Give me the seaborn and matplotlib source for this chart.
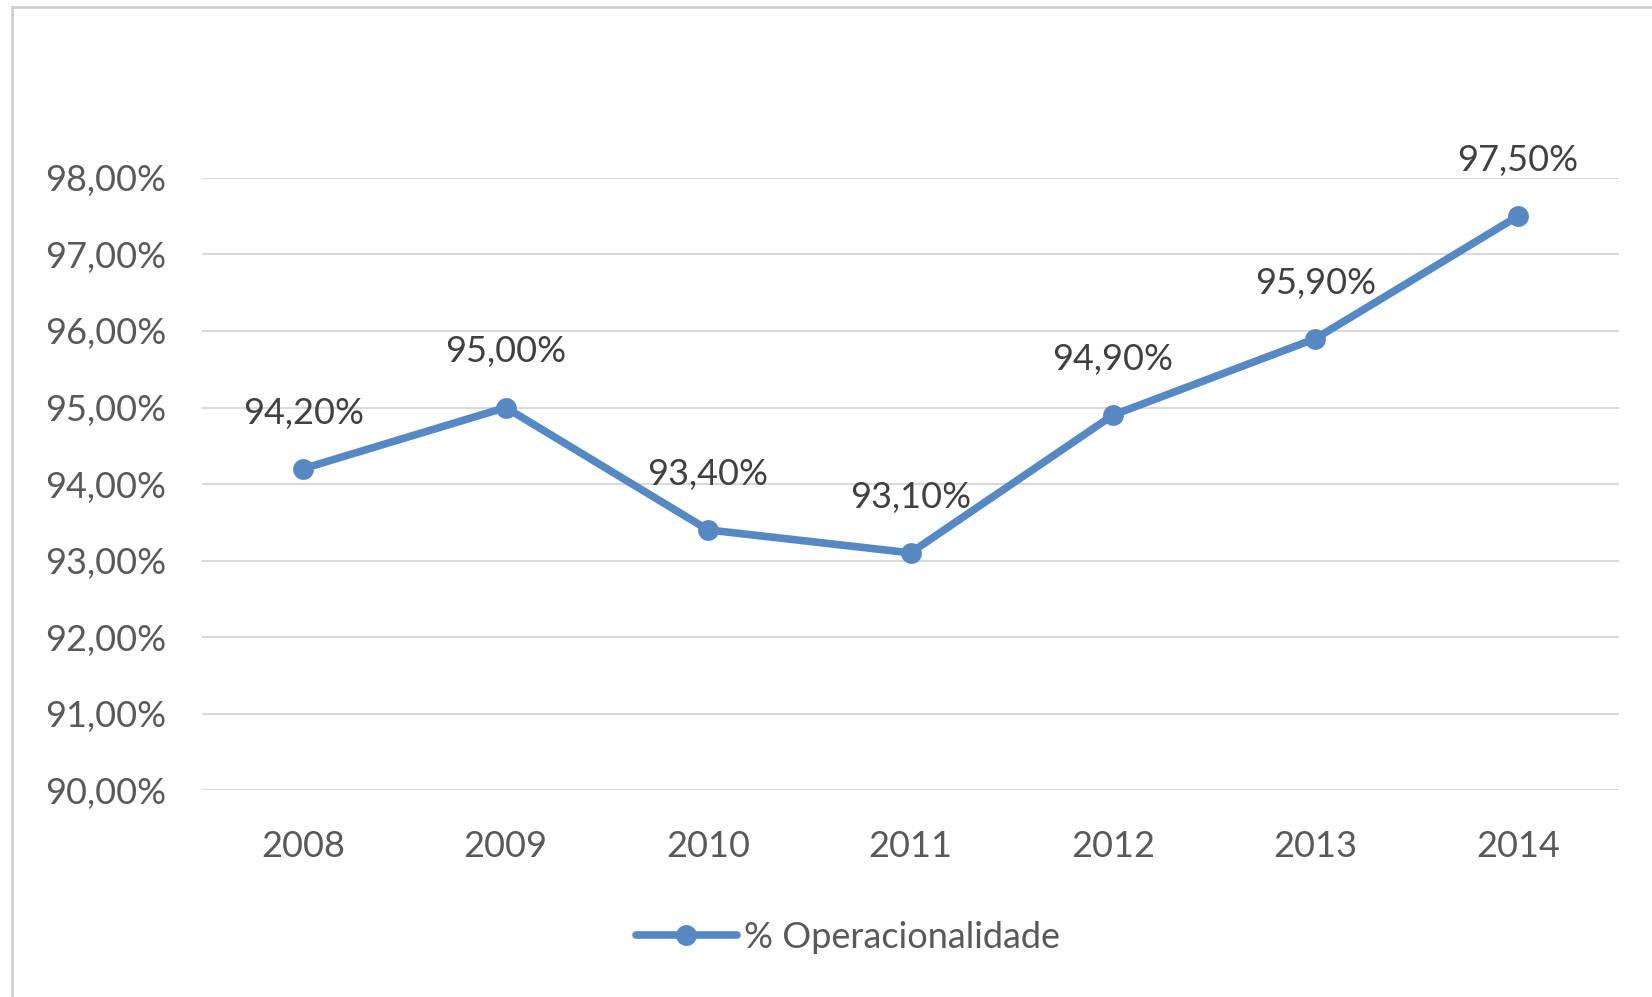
import matplotlib
matplotlib.use("Agg")
import matplotlib.pyplot as plt
from matplotlib.lines import Line2D
import seaborn as sns
import pandas as pd

# Annual operational availability
years = ["2008", "2009", "2010", "2011", "2012", "2013", "2014"]
operacionalidade = [94.2, 95.0, 93.4, 93.1, 94.9, 95.9, 97.5]
y_ticks = [90, 91, 92, 93, 94, 95, 96, 97, 98]
series_name = "% Operacionalidade"

def pt_pct(v):
    return f"{v:.2f}".replace(".", ",") + "%"

sns.set_theme(style="white")
plt.rcParams["font.family"] = ["Lato", "DejaVu Sans"]

LINE_BLUE = "#5689C3"
TICK_GRAY = "#595959"
LABEL_GRAY = "#404040"
GRID_GRAY = "#D9D9D9"
FS = 26

fig = plt.figure(figsize=(16.52, 9.97), dpi=100)
fig.patch.set_facecolor("white")
ax = fig.add_axes([202 / 1652, 1 - 790 / 997, 1417 / 1652, (790 - 178) / 997])

df = pd.DataFrame({"Ano": years, series_name: operacionalidade})
sns.lineplot(data=df, x="Ano", y=series_name, ax=ax, sort=False,
             color=LINE_BLUE, linewidth=5.5, marker="o", markersize=15,
             markeredgewidth=0, legend=False, clip_on=False, zorder=3)

ax.set_xlim(-0.5, len(years) - 0.5)
ax.set_ylim(y_ticks[0], y_ticks[-1])
ax.set_yticks(y_ticks)
ax.set_yticklabels([pt_pct(v) for v in y_ticks])
ax.set_xticks(range(len(years)))
ax.set_xticklabels(years)
ax.tick_params(axis="y", length=0, pad=26, labelsize=FS, labelcolor=TICK_GRAY)
ax.tick_params(axis="x", length=0, pad=29, labelsize=FS, labelcolor=TICK_GRAY)
ax.set_xlabel("")
ax.set_ylabel("")
ax.yaxis.grid(True, color=GRID_GRAY, linewidth=1.5)
ax.xaxis.grid(False)
for s in ax.spines.values():
    s.set_visible(False)

# Value labels above each point
for i, v in enumerate(operacionalidade):
    ax.annotate(pt_pct(v), xy=(i, v), xytext=(0, 40), textcoords="offset points",
                ha="center", va="center", fontsize=FS, color=LABEL_GRAY,
                annotation_clip=False)

handle = Line2D([], [], color=LINE_BLUE, linewidth=5.5, marker="o",
                markersize=15, markeredgewidth=0)
fig.legend([handle], [series_name], loc="center",
           bbox_to_anchor=(848 / 1652, 1 - 937 / 997), frameon=False,
           fontsize=FS, labelcolor=TICK_GRAY, handlelength=2.8,
           handletextpad=0.2)

# Chart-area frame lines
fig.add_artist(Line2D([12 / 1652, 12 / 1652], [0, 1 - 7 / 997],
                      transform=fig.transFigure, color="#D0D0D0", linewidth=2))
fig.add_artist(Line2D([12 / 1652, 1], [1 - 7 / 997, 1 - 7 / 997],
                      transform=fig.transFigure, color="#D0D0D0", linewidth=2))

fig.savefig("out.png", dpi=100, facecolor="white")
